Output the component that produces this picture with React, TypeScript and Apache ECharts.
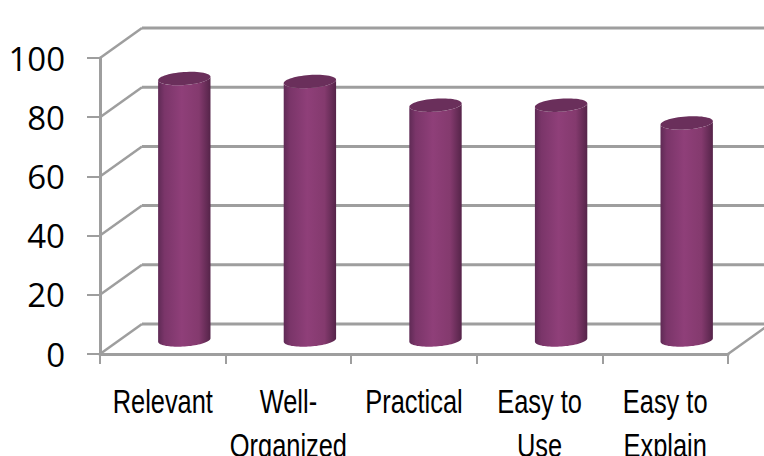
import React, { useEffect, useRef } from "react";
import * as echarts from "echarts";

const categories = ["Relevant", "Well-\nOrganized", "Practical", "Easy to\nUse", "Easy to\nExplain"];
const values = [88, 87, 79, 79, 73];
const yTicks = [0, 20, 40, 60, 80, 100];

const DEPTH_X = 42;
const DEPTH_Y = -30;
const GRID = "#9e9e9e";

function ellipsePts(cx: number, cy: number, rx: number, ry: number, tilt: number, from: number, to: number, n = 40) {
  const pts: number[][] = [];
  const c = Math.cos(tilt), s = Math.sin(tilt);
  for (let i = 0; i <= n; i++) {
    const t = from + ((to - from) * i) / n;
    const ex = rx * Math.cos(t), ey = ry * Math.sin(t);
    pts.push([cx + ex * c - ey * s, cy + ex * s + ey * c]);
  }
  return pts;
}

function renderWall(params: any, api: any) {
  const v = api.value(1);
  const p = api.coord([0, v]);
  const sys = params.coordSys;
  const left = sys.x;
  const right = sys.x + sys.width;
  const y = p[1];
  const style = { stroke: GRID, lineWidth: 3, fill: null };
  const thin = { stroke: GRID, lineWidth: 2.5, fill: null };
  const children: any[] = [
    { type: "line", shape: { x1: left, y1: y, x2: left + DEPTH_X, y2: y + DEPTH_Y }, style: thin },
    { type: "line", shape: { x1: left + DEPTH_X, y1: y + DEPTH_Y, x2: right + DEPTH_X, y2: y + DEPTH_Y }, style },
  ];
  if (v === 0) {
    children.push({
      type: "line",
      shape: { x1: right, y1: y, x2: right + DEPTH_X, y2: y + DEPTH_Y },
      style: thin,
    });
  }
  return { type: "group", children };
}

function renderCylinder(_params: any, api: any) {
  const i = api.value(0);
  const top = api.coord([i, api.value(1)]);
  const base = api.coord([i, 0]);
  const band = api.size([1, 0])[0];
  const rx = band * 0.209;
  const ry = 6.5;
  const tilt = (-4 * Math.PI) / 180;
  const cx = base[0] + DEPTH_X / 2 + 0.5;
  const yBase = base[1] + DEPTH_Y / 2 + 1;
  const yTop = top[1] + DEPTH_Y / 2;
  const lowerArc = ellipsePts(cx, yBase, rx, ry, tilt, Math.PI, 0);
  const upperArc = ellipsePts(cx, yTop, rx, ry, tilt, 0, Math.PI);
  const bodyPts = [...lowerArc, ...upperArc];
  const fill = new echarts.graphic.LinearGradient(0, 0, 1, 0, [
    { offset: 0, color: "#5f2a55" },
    { offset: 0.12, color: "#7a3569" },
    { offset: 0.45, color: "#8f3f79" },
    { offset: 0.78, color: "#843a6e" },
    { offset: 1, color: "#552449" },
  ]);
  return {
    type: "group",
    children: [
      { type: "polygon", shape: { points: bodyPts }, style: { fill } },
      {
        type: "polygon",
        shape: { points: ellipsePts(cx, yTop, rx, ry, tilt, 0, Math.PI * 2, 60) },
        style: { fill: "#6a2f5b" },
      },
    ],
  };
}

function renderCategoryLabel(_params: any, api: any) {
  const i = api.value(0);
  const base = api.coord([i, 0]);
  return {
    type: "text",
    x: base[0],
    y: base[1] + 25,
    scaleX: 0.77,
    silent: true,
    style: {
      text: categories[i],
      fontFamily: "'Liberation Sans', sans-serif",
      fontSize: 33,
      lineHeight: 44,
      fill: "#000000",
      align: "center",
      verticalAlign: "top",
    },
  };
}

export default function App() {
  const ref = useRef<HTMLDivElement>(null);
  useEffect(() => {
    const chart = echarts.init(ref.current!, undefined, { renderer: "svg" });
    chart.setOption({
      animation: false,
      backgroundColor: "#ffffff",
      grid: { left: 100, top: 58, width: 628, height: 296, outerBoundsMode: "none" },
      xAxis: {
        type: "category",
        data: categories,
        axisLine: { lineStyle: { color: GRID, width: 3 } },
        axisTick: { show: true, length: 10, lineStyle: { color: GRID, width: 2 } },
        axisLabel: { show: false },
      },
      yAxis: {
        type: "value",
        min: 0,
        max: 100,
        interval: 20,
        splitLine: { show: false },
        axisLine: { show: true, lineStyle: { color: GRID, width: 3 } },
        axisTick: { show: true, length: 13, lineStyle: { color: GRID, width: 2 } },
        axisLabel: {
          fontFamily: "'Open Sans', sans-serif",
          fontSize: 33,
          color: "#000000",
          margin: 35,
        },
      },
      series: [
        {
          type: "custom",
          clip: false,
          silent: true,
          z: 1,
          data: yTicks.map((v) => [0, v]),
          encode: { x: 0, y: 1 },
          renderItem: renderWall,
        },
        {
          type: "custom",
          clip: false,
          silent: true,
          z: 3,
          data: values.map((v, i) => [i, v]),
          encode: { x: 0, y: 1 },
          renderItem: renderCylinder,
        },
        {
          type: "custom",
          clip: false,
          silent: true,
          z: 4,
          data: categories.map((_, i) => [i, 0]),
          encode: { x: 0, y: 1 },
          renderItem: renderCategoryLabel,
        },
      ],
    });
    return () => chart.dispose();
  }, []);
  return (
    <div
      ref={ref}
      style={{ position: "fixed", left: 0, top: 0, width: 764, height: 456 }}
    />
  );
}
